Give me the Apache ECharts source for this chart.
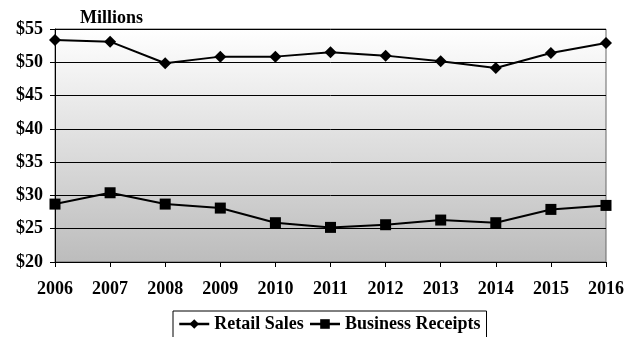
<!DOCTYPE html>
<html>
<head>
<meta charset="utf-8">
<script src="https://cdn.jsdelivr.net/npm/echarts@6/dist/echarts.min.js"></script>
<style>
  html, body { margin: 0; padding: 0; background: #fff; }
  #chart { width: 635px; height: 337px; }
</style>
</head>
<body>
<div id="chart"></div>
<script>
// Annual figures, in millions of dollars
const years = ['2006', '2007', '2008', '2009', '2010', '2011', '2012', '2013', '2014', '2015', '2016'];
const retailSales = [53.35, 53.1, 49.85, 50.85, 50.85, 51.5, 51.0, 50.15, 49.15, 51.4, 52.9];
const businessReceipts = [28.7, 30.4, 28.7, 28.1, 25.9, 25.2, 25.6, 26.3, 25.9, 27.9, 28.5];
const yTicks = { min: 20, max: 55, step: 5 };

const font = 'Liberation Serif, Times New Roman, serif';
const chart = echarts.init(document.getElementById('chart'));

chart.setOption({
  animation: false,
  title: {
    text: 'Millions',
    left: 75, top: 4,
    textStyle: { fontFamily: font, fontWeight: 'bold', fontSize: 18, color: '#000' }
  },
  grid: {
    left: 55, right: 29, top: 29, bottom: 75,
    show: true,
    borderColor: '#666', borderWidth: 1,
    backgroundColor: new echarts.graphic.LinearGradient(0, 0, 0, 1, [
      { offset: 0, color: '#ffffff' },
      { offset: 1, color: '#bcbcbc' }
    ])
  },
  legend: {
    top: 311, left: 173,
    padding: [4, 6, 8, 5],
    borderColor: '#000', borderWidth: 1,
    itemWidth: 30, itemHeight: 12, itemGap: 5,
    lineStyle: { width: 2.5 },
    textStyle: { fontFamily: font, fontWeight: 'bold', fontSize: 18, color: '#000' },
    data: ['Retail Sales', 'Business Receipts']
  },
  xAxis: {
    type: 'category', data: years, boundaryGap: false,
    axisLine: { lineStyle: { color: '#000', width: 1 } },
    axisTick: { show: true, length: 5, alignWithLabel: true, lineStyle: { color: '#000' } },
    axisLabel: { fontFamily: font, fontWeight: 'bold', fontSize: 18, color: '#000', margin: 18 }
  },
  yAxis: {
    type: 'value', min: yTicks.min, max: yTicks.max, interval: yTicks.step,
    axisLine: { show: true, lineStyle: { color: '#000', width: 1 } },
    axisTick: { show: true, length: 5, lineStyle: { color: '#000' } },
    axisLabel: { fontFamily: font, fontWeight: 'bold', fontSize: 18, color: '#000', margin: 12,
                 formatter: v => '$' + v },
    splitLine: { lineStyle: { color: '#000', width: 1 } }
  },
  series: [
    {
      name: 'Retail Sales', type: 'line', data: retailSales,
      symbol: 'diamond', symbolSize: 12,
      lineStyle: { color: '#000', width: 2 },
      itemStyle: { color: '#000' }
    },
    {
      name: 'Business Receipts', type: 'line', data: businessReceipts,
      symbol: 'rect', symbolSize: 11,
      lineStyle: { color: '#000', width: 2 },
      itemStyle: { color: '#000' }
    }
  ]
});
</script>
</body>
</html>
